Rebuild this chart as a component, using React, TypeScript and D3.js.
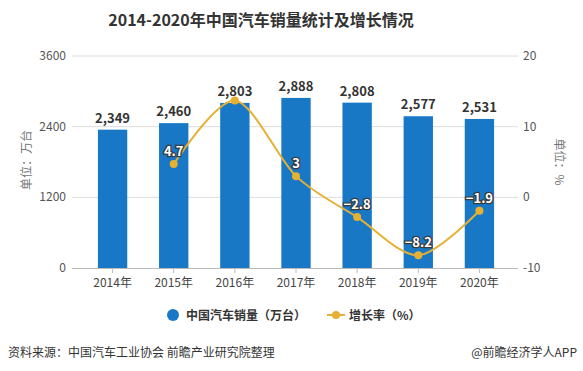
import * as React from "react";
import * as d3 from "d3";
import { useEffect, useRef } from "react";

const years = ["2014年", "2015年", "2016年", "2017年", "2018年", "2019年", "2020年"];
const sales = [2349, 2460, 2803, 2888, 2808, 2577, 2531];
const growth: (number | null)[] = [null, 4.7, 13.7, 3, -2.8, -8.2, -1.9];
const growthLabels = [false, true, false, true, true, true, true];
const leftTicks = [0, 1200, 2400, 3600];
const rightTicks = [-10, 0, 10, 20];

const FONT = "'Noto Sans CJK SC', 'Microsoft YaHei', sans-serif";
const BLUE = "#1878c6";
const GOLD = "#e6b032";

const App: React.FunctionComponent = () => {
  const svgRef = useRef<SVGSVGElement>(null);

  useEffect(() => {
    const w = 583;
    const h = 371;
    const left = 72;
    const right = 518;
    const top = 56;
    const bottom = 268;

    const svg = d3.select(svgRef.current).attr("width", w).attr("height", h).style("font-family", FONT);
    svg.selectAll("*").remove();

    const x = d3.scaleBand().domain(years).range([82, 510]).paddingInner(0.52).paddingOuter(0.26);
    const yL = d3.scaleLinear().domain([0, 3600]).range([bottom, top]);
    const yR = d3.scaleLinear().domain([-10, 20]).range([bottom, top]);

    // title
    svg.append("text").attr("x", 261).attr("y", 26).attr("text-anchor", "middle")
      .attr("font-size", 16).attr("font-weight", "bold").attr("fill", "#333")
      .text("2014-2020年中国汽车销量统计及增长情况");

    // grid
    svg.append("g").selectAll("line").data(leftTicks.slice(1)).join("line")
      .attr("x1", left).attr("x2", right)
      .attr("y1", (d) => yL(d)).attr("y2", (d) => yL(d))
      .attr("stroke", "#dcdcdc").attr("stroke-width", 1);

    // left ticks
    svg.append("g").selectAll("text").data(leftTicks).join("text")
      .attr("x", 66).attr("y", (d) => yL(d) + 4).attr("text-anchor", "end")
      .attr("font-size", 12).attr("fill", "#555").text((d) => d);

    // right ticks
    svg.append("g").selectAll("text").data(rightTicks).join("text")
      .attr("x", 523).attr("y", (d) => yR(d) + 4).attr("text-anchor", "start")
      .attr("font-size", 12).attr("fill", "#555").text((d) => d);

    // axis titles
    svg.append("text").attr("transform", `translate(31,160) rotate(-90)`).attr("text-anchor", "middle")
      .attr("font-size", 12).attr("fill", "#777").text("单位：万台");
    svg.append("text").attr("transform", `translate(555,162) rotate(90)`).attr("text-anchor", "middle")
      .attr("font-size", 12).attr("fill", "#777").text("单位：%");

    // bars
    svg.append("g").selectAll("rect").data(sales).join("rect")
      .attr("x", (_, i) => x(years[i])!)
      .attr("y", (d) => yL(d))
      .attr("width", x.bandwidth())
      .attr("height", (d) => bottom - yL(d))
      .attr("fill", BLUE);

    // x axis
    svg.append("line").attr("x1", left).attr("x2", right).attr("y1", bottom + 0.5).attr("y2", bottom + 0.5)
      .attr("stroke", "#bbb");
    svg.append("g").selectAll("line").data(years).join("line")
      .attr("x1", (d) => x(d)! + x.bandwidth() / 2).attr("x2", (d) => x(d)! + x.bandwidth() / 2)
      .attr("y1", bottom).attr("y2", bottom + 5).attr("stroke", "#bbb");
    svg.append("g").selectAll("text").data(years).join("text")
      .attr("x", (d) => x(d)! + x.bandwidth() / 2).attr("y", bottom + 19).attr("text-anchor", "middle")
      .attr("font-size", 12).attr("fill", "#444").text((d) => d);

    // bar labels
    svg.append("g").selectAll("text").data(sales).join("text")
      .attr("x", (_, i) => x(years[i])! + x.bandwidth() / 2)
      .attr("y", (d) => yL(d) - 7).attr("text-anchor", "middle")
      .attr("font-size", 13).attr("font-weight", "bold").attr("fill", "#333")
      .text((d) => d3.format(",")(d));

    // growth line
    const pts = growth
      .map((g, i) => ({ g, i }))
      .filter((p) => p.g !== null) as { g: number; i: number }[];
    const cx = (i: number) => x(years[i])! + x.bandwidth() / 2;
    const line = d3.line<{ g: number; i: number }>()
      .x((p) => cx(p.i)).y((p) => yR(p.g))
      .curve(d3.curveCardinal.tension(0.1));
    svg.append("path").datum(pts).attr("d", line).attr("fill", "none")
      .attr("stroke", GOLD).attr("stroke-width", 2);
    svg.append("g").selectAll("circle").data(pts).join("circle")
      .attr("cx", (p) => cx(p.i)).attr("cy", (p) => yR(p.g)).attr("r", 4).attr("fill", GOLD);
    svg.append("g").selectAll("text").data(pts.filter((p) => growthLabels[p.i])).join("text")
      .attr("x", (p) => cx(p.i)).attr("y", (p) => yR(p.g) - 8).attr("text-anchor", "middle")
      .attr("font-size", 13).attr("font-weight", "bold").attr("fill", "#fff")
      .attr("stroke", "#3a3a3a").attr("stroke-width", 2.5).attr("paint-order", "stroke")
      .text((p) => (p.g < 0 ? "−" + Math.abs(p.g) : String(p.g)));

    // legend
    const lg = svg.append("g");
    lg.append("circle").attr("cx", 173).attr("cy", 315).attr("r", 6).attr("fill", BLUE);
    lg.append("text").attr("x", 186).attr("y", 320).attr("font-size", 12).attr("font-weight", "bold")
      .attr("fill", "#333").text("中国汽车销量（万台）");
    lg.append("line").attr("x1", 327).attr("x2", 345).attr("y1", 315).attr("y2", 315)
      .attr("stroke", GOLD).attr("stroke-width", 2);
    lg.append("circle").attr("cx", 336).attr("cy", 315).attr("r", 4).attr("fill", GOLD);
    lg.append("text").attr("x", 349).attr("y", 320).attr("font-size", 12).attr("font-weight", "bold")
      .attr("fill", "#333").text("增长率（%）");

    // footer
    svg.append("text").attr("x", 8).attr("y", 357).attr("font-size", 12).attr("fill", "#333")
      .text("资料来源：中国汽车工业协会 前瞻产业研究院整理");
    svg.append("text").attr("x", 577).attr("y", 357).attr("text-anchor", "end").attr("font-size", 12)
      .attr("fill", "#333").text("@前瞻经济学人APP");
  }, []);

  return (
    <div style={{ position: "absolute", left: 0, top: 0 }}>
      <svg ref={svgRef}></svg>
    </div>
  );
};

export default App;
